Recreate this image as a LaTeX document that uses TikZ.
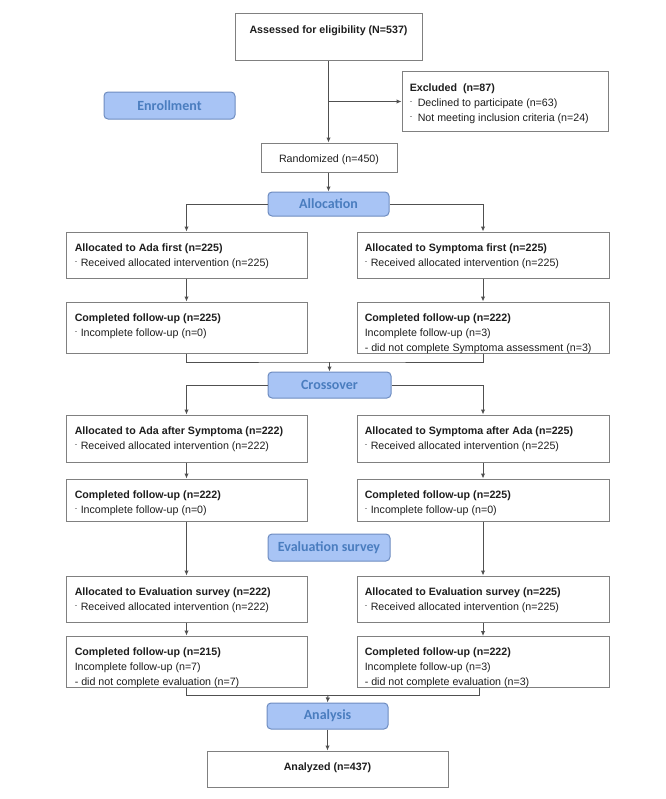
\documentclass[tikz,border=0pt]{standalone}
\usepackage{fontspec}
\setmainfont{Liberation Sans}
\newfontfamily\carlito{Carlito}
\usetikzlibrary{arrows.meta}
\newdimen\pxu \pxu=0.75pt
\definecolor{boxgray}{HTML}{808080}
\definecolor{linegray}{HTML}{505050}
\definecolor{lblfill}{HTML}{A8C4F5}
\definecolor{lbldraw}{HTML}{6E8CC0}
\definecolor{lbltext}{HTML}{4A7DBF}
\definecolor{txtcol}{HTML}{1E1E1E}
\definecolor{dashcol}{HTML}{A0A0A0}
\newcommand\dsh[1][3.5]{{\color{dashcol}\rule[4\pxu]{2.5\pxu}{0.9\pxu}}\hspace{#1\pxu}}
\tikzset{
  box/.style={draw=boxgray, line width=0.75pt, fill=white, inner sep=0pt},
  txt/.style={font=\fontsize{8}{11.25}\selectfont, text=txtcol, align=left, inner sep=0pt},
  lbl/.style={draw=lbldraw, fill=lblfill, line width=0.75pt, rounded corners=3pt, inner sep=0pt,
    font=\carlito\bfseries\fontsize{10.5}{12}\selectfont, text=lbltext},
  conn/.style={draw=linegray, line width=0.75pt},
  arr/.style={conn, -{Latex[length=3.75pt,width=3.4pt]}},
}
\newcommand\bx[5]{\node[box, minimum width=#4\pxu, minimum height=#5\pxu] (#1) at (#2,#3) {};}
\newcommand\bt[3][8.5]{\node[txt, anchor=north west] (#2-t) at ([shift={(#1,9)}]#2.north west) {\strut #3};}
\newcommand\bc[2]{\node[txt, anchor=north, align=center] (#1-t) at ([shift={(0,9)}]#1.north) {\strut #2};}
\begin{document}
\begin{tikzpicture}[x=0.75pt,y=-0.75pt]
\useasboundingbox (0,0) rectangle (666,799);
% boxes
\bx{assess}{328.5}{37.5}{187}{47}
\bx{excl}{505}{101.5}{206}{59}
\bx{rand}{329}{157.5}{136}{29}
\bx{L1}{186.5}{255}{241}{46}
\bx{R1}{483}{255}{252}{46}
\bx{L2}{186.5}{327.5}{241}{51}
\bx{R2}{483}{327.5}{252}{51}
\bx{L3}{186.5}{438.5}{241}{47}
\bx{R3}{483}{438.5}{252}{47}
\bx{L4}{186.5}{500}{241}{42}
\bx{R4}{483}{500}{252}{42}
\bx{L5}{186.5}{599}{241}{46}
\bx{R5}{483}{599}{252}{46}
\bx{L6}{186.5}{661.5}{241}{51}
\bx{R6}{483}{662}{252}{51}
\bx{analyzed}{327.5}{769}{241}{36}
% phase labels
\node[lbl, minimum width=131\pxu, minimum height=27\pxu] (enroll) at (169.5,105.5) {Enrollment};
\node[lbl, minimum width=121\pxu, minimum height=24\pxu] (alloc) at (328.5,204) {Allocation};
\node[lbl, minimum width=123\pxu, minimum height=26\pxu] (cross) at (329.5,385) {Crossover};
\node[lbl, minimum width=122\pxu, minimum height=27\pxu] (evals) at (329,547.5) {Evaluation survey};
\node[lbl, minimum width=121\pxu, minimum height=26\pxu] (analysis) at (327.5,716) {Analysis};
% texts
\bc{assess}{\textbf{Assessed for eligibility (N=537)}}
\bt[8]{excl}{\textbf{Excluded\ \ (n=87)}\\\dsh[5.5]Declined to participate (n=63)\\\dsh[5.5]Not meeting inclusion criteria (n=24)}
\bc{rand}{Randomized (n=450)}
\bt[9]{L1}{\textbf{Allocated to Ada first (n=225)}\\\dsh Received allocated intervention (n=225)}
\bt[8]{R1}{\textbf{Allocated to Symptoma first (n=225)}\\\dsh Received allocated intervention (n=225)}
\bt[9]{L2}{\textbf{Completed follow-up (n=225)}\\\dsh Incomplete follow-up (n=0)}
\bt[8]{R2}{\textbf{Completed follow-up (n=222)}\\Incomplete follow-up (n=3)\\- did not complete Symptoma assessment (n=3)}
\bt[9]{L3}{\textbf{Allocated to Ada after Symptoma (n=222)}\\\dsh Received allocated intervention (n=222)}
\bt[8]{R3}{\textbf{Allocated to Symptoma after Ada (n=225)}\\\dsh Received allocated intervention (n=225)}
\bt[9]{L4}{\textbf{Completed follow-up (n=222)}\\\dsh Incomplete follow-up (n=0)}
\bt[8]{R4}{\textbf{Completed follow-up (n=225)}\\\dsh Incomplete follow-up (n=0)}
\bt[9]{L5}{\textbf{Allocated to Evaluation survey (n=222)}\\\dsh Received allocated intervention (n=222)}
\bt[8]{R5}{\textbf{Allocated to Evaluation survey (n=225)}\\\dsh Received allocated intervention (n=225)}
\bt[9]{L6}{\textbf{Completed follow-up (n=215)}\\Incomplete follow-up (n=7)\\- did not complete evaluation (n=7)}
\bt[8]{R6}{\textbf{Completed follow-up (n=222)}\\Incomplete follow-up (n=3)\\- did not complete evaluation (n=3)}
\bc{analyzed}{\textbf{Analyzed (n=437)}}
% connectors
\draw[arr] (assess.south) -- (assess.south |- rand.north);
\draw[arr] (assess.south |- excl.west) -- (excl.west);
\draw[arr] (rand.south -| alloc.north) -- (alloc.north);
\draw[arr] (alloc.west) -| (L1.north);
\draw[arr] (alloc.east) -| (R1.north);
\draw[arr] (L1.south) -- (L2.north);
\draw[arr] (R1.south) -- (R2.north);
\coordinate (m1) at (329.5,362);
\draw[conn] (L2.south) |- (m1) -| (R2.south);
\draw[arr] (m1) -- (cross.north);
\draw[arr] (cross.west) -| (L3.north);
\draw[arr] (cross.east) -| (R3.north);
\draw[arr] (L3.south) -- (L4.north);
\draw[arr] (R3.south) -- (R4.north);
\draw[arr] (L4.south) -- (L5.north);
\draw[arr] (R4.south) -- (R5.north);
\draw[arr] (L5.south) -- (L6.north);
\draw[arr] (R5.south) -- (R6.north);
\coordinate (m2) at (328,695);
\coordinate (m2r) at (479,695);
\draw[conn] (L6.south) |- (m2r) -- (m2r |- R6.south);
\draw[arr] (m2) -- (analysis.north);
\draw[arr] (analysis.south) -- (analyzed.north);
\end{tikzpicture}
\end{document}
